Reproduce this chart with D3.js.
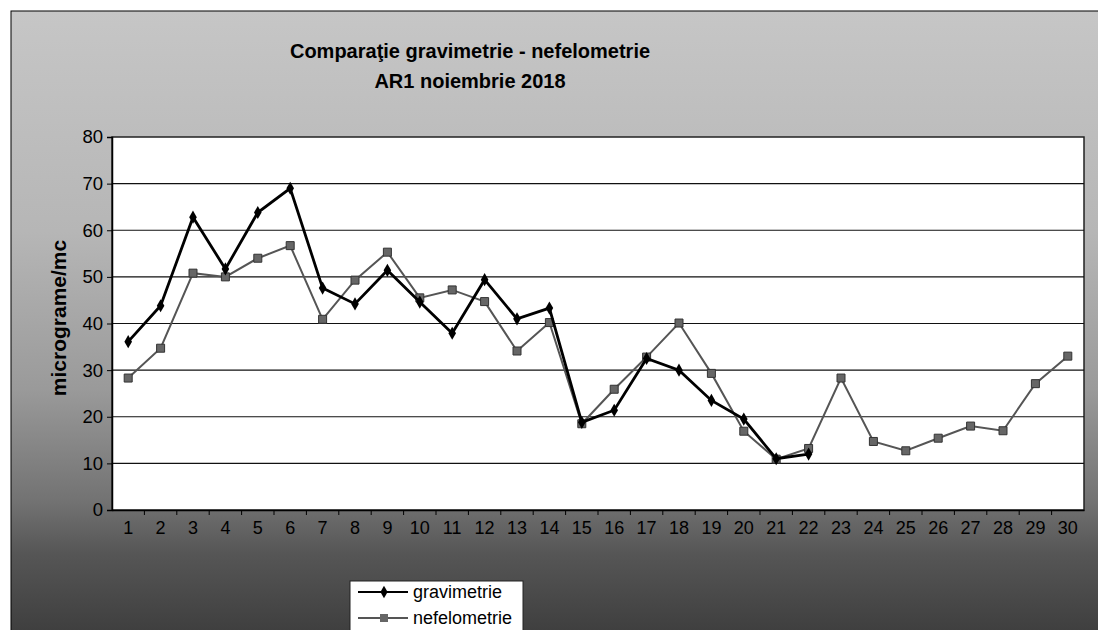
<!DOCTYPE html>
<html>
<head>
<meta charset="utf-8">
<script src="https://cdn.jsdelivr.net/npm/d3@7/dist/d3.min.js"></script>
<style>
  html, body { margin: 0; padding: 0; background: #fff; }
  svg { display: block; }
  text { font-family: "Liberation Sans", Arial, sans-serif; fill: #000; }
</style>
</head>
<body>
<svg id="chart" width="1098" height="630"></svg>
<script>
// ---- data ----
const days = d3.range(1, 31).map(String);
const gravimetrie = [36.1, 43.8, 62.8, 51.7, 63.8, 69.0, 47.6, 44.2, 51.4, 44.6,
                     37.9, 49.4, 41.0, 43.3, 18.8, 21.4, 32.5, 30.0, 23.5, 19.5,
                     11.0, 12.0, null, null, null, null, null, null, null, null];
const nefelometrie = [28.3, 34.7, 50.8, 50.0, 54.0, 56.7, 40.9, 49.3, 55.3, 45.5,
                      47.2, 44.7, 34.1, 40.2, 18.5, 25.9, 32.8, 40.1, 29.3, 16.9,
                      10.9, 13.2, 28.3, 14.7, 12.7, 15.4, 18.0, 17.0, 27.1, 33.0];
const yTicks = [0, 10, 20, 30, 40, 50, 60, 70, 80];
const titleLines = ["Comparaţie gravimetrie - nefelometrie", "AR1  noiembrie 2018"];
const yTitle = "micrograme/mc";
const seriesNames = ["gravimetrie", "nefelometrie"];

// ---- layout ----
const svg = d3.select("#chart");
const W = 1098, H = 630;
const plot = { left: 112, right: 1084, top: 137, bottom: 510 };

const defs = svg.append("defs");
const grad = defs.append("linearGradient").attr("id", "bg").attr("x1", 0).attr("y1", 0).attr("x2", 0).attr("y2", 1);
[[0, "#c6c6c6"], [0.35, "#b6b6b6"], [0.6, "#9a9a9a"], [0.78, "#727272"], [0.86, "#565656"], [1, "#3c3c3c"]]
  .forEach(([o, c]) => grad.append("stop").attr("offset", o).attr("stop-color", c));

svg.append("rect").attr("x", 11).attr("y", 11).attr("width", W).attr("height", H)
  .attr("fill", "url(#bg)").attr("stroke", "#000").attr("stroke-width", 1);

// ---- scales ----
const x = d3.scaleBand().domain(days).range([plot.left, plot.right]);
const xc = d => x(d) + x.bandwidth() / 2;
const y = d3.scaleLinear().domain([0, 80]).range([plot.bottom, plot.top]);

// plot area
svg.append("rect").attr("x", plot.left).attr("y", plot.top)
  .attr("width", plot.right - plot.left).attr("height", plot.bottom - plot.top)
  .attr("fill", "#fff").attr("stroke", "#222").attr("stroke-width", 1.5);

// gridlines
svg.append("g").selectAll("line").data(yTicks.filter(t => t > 0 && t < 80)).join("line")
  .attr("x1", plot.left).attr("x2", plot.right)
  .attr("y1", d => y(d)).attr("y2", d => y(d))
  .attr("stroke", "#111").attr("stroke-width", 1.2);

// y axis
const yAxis = svg.append("g").attr("transform", `translate(${plot.left},0)`)
  .call(d3.axisLeft(y).tickValues(yTicks).tickSize(5).tickPadding(4));
yAxis.select(".domain").attr("stroke", "#000").attr("stroke-width", 1.5);
yAxis.selectAll(".tick line").attr("stroke", "#000");
yAxis.selectAll("text").style("font-size", "18.5px").style("font-family", '"Liberation Sans", Arial, sans-serif').attr("fill", "#000");

// x axis
const xAxis = svg.append("g").attr("transform", `translate(0,${plot.bottom})`)
  .call(d3.axisBottom(x).tickSize(0).tickPadding(11));
xAxis.select(".domain").attr("stroke", "#000").attr("stroke-width", 1.5);
xAxis.selectAll("text").style("font-size", "18px").style("font-family", '"Liberation Sans", Arial, sans-serif').attr("fill", "#000");
svg.append("g").selectAll("line").data(days.slice(1)).join("line")
  .attr("x1", d => x(d)).attr("x2", d => x(d))
  .attr("y1", plot.bottom).attr("y2", plot.bottom + 5)
  .attr("stroke", "#000").attr("stroke-width", 1);

// ---- lines ----
const lineGen = vals => d3.line()
  .defined((d, i) => vals[i] != null)
  .x((d, i) => xc(days[i]))
  .y((d, i) => y(vals[i]))(vals);

svg.append("path").attr("d", lineGen(nefelometrie))
  .attr("fill", "none").attr("stroke", "#555").attr("stroke-width", 2);
svg.append("g").selectAll("path").data(nefelometrie).join("path")
  .attr("d", d3.symbol(d3.symbolSquare, 64))
  .attr("transform", (d, i) => `translate(${xc(days[i])},${y(d)})`)
  .attr("fill", "#666").attr("stroke", "#333").attr("stroke-width", 1);

svg.append("path").attr("d", lineGen(gravimetrie))
  .attr("fill", "none").attr("stroke", "#000").attr("stroke-width", 2.8);
svg.append("g").selectAll("path").data(gravimetrie.filter(v => v != null)).join("path")
  .attr("d", d3.symbol(d3.symbolDiamond, 50))
  .attr("transform", (d, i) => `translate(${xc(days[i])},${y(d)})`)
  .attr("fill", "#000");

// ---- titles ----
svg.append("g").selectAll("text").data(titleLines).join("text")
  .attr("x", 470).attr("y", (d, i) => 58 + i * 30)
  .attr("text-anchor", "middle")
  .style("font-size", "20px").style("font-weight", "bold")
  .text(d => d);

svg.append("text")
  .attr("transform", "translate(66,318) rotate(-90)")
  .attr("text-anchor", "middle")
  .style("font-size", "21px").style("font-weight", "bold")
  .text(yTitle);

// ---- legend ----
const lg = svg.append("g");
lg.append("rect").attr("x", 350).attr("y", 581).attr("width", 173).attr("height", 70)
  .attr("fill", "#fff").attr("stroke", "#222").attr("stroke-width", 1);
const rows = [
  { name: seriesNames[0], color: "#000", w: 2.2, sym: d3.symbolDiamond, size: 45, fill: "#000", yy: 592 },
  { name: seriesNames[1], color: "#555", w: 2, sym: d3.symbolSquare, size: 64, fill: "#666", yy: 618 }
];
rows.forEach(r => {
  lg.append("line").attr("x1", 358).attr("x2", 408).attr("y1", r.yy).attr("y2", r.yy)
    .attr("stroke", r.color).attr("stroke-width", r.w);
  lg.append("path").attr("d", d3.symbol(r.sym, r.size)).attr("transform", `translate(384,${r.yy})`)
    .attr("fill", r.fill);
  lg.append("text").attr("x", 413).attr("y", r.yy + 6).style("font-size", "18px").text(r.name);
});
</script>
</body>
</html>
